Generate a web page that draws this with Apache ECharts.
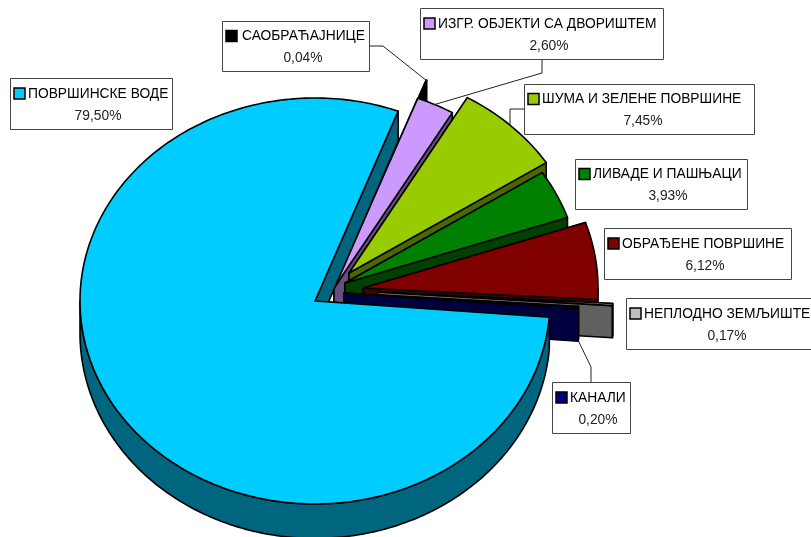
<!DOCTYPE html>
<html>
<head>
<meta charset="utf-8">
<style>
  html, body { margin: 0; padding: 0; background: #fff; }
  #chart { width: 811px; height: 537px; }
</style>
<script src="https://cdn.jsdelivr.net/npm/echarts@6/dist/echarts.min.js"></script>
</head>
<body>
<div id="chart"></div>
<script>
// data, clockwise from the top, back slices first so the painting order works out
const sliceNames  = ['САОБРАЋАЈНИЦЕ', 'ИЗГР. ОБЈЕКТИ СА ДВОРИШТЕМ', 'ШУМА И ЗЕЛЕНЕ ПОВРШИНЕ', 'ЛИВАДЕ И ПАШЊАЦИ', 'ОБРАЂЕНЕ ПОВРШИНЕ', 'НЕПЛОДНО ЗЕМЉИШТЕ', 'КАНАЛИ', 'ПОВРШИНСКЕ ВОДЕ']
const sliceValues = [0.04, 2.60, 7.45, 3.93, 6.12, 0.17, 0.20, 79.50]

// colours
const topColors  = ['#000000', '#CC99FF', '#99CC00', '#008000', '#800000', '#C0C0C0', '#000080', '#00CCFF']
const sideColors = ['#000000', '#664C80', '#4C6600', '#004000', '#400000', '#606060', '#000040', '#006680']

// pie layout
const centerX = 340, centerY = 290
const radiusX = 235, radiusY = 203
const startAngle = 69.27
const explodeDx = [3, -6, 9, 5, 23, 38, 4, -25]
const explodeDy = [-20, -2, -17, -7, -2, 2, 3, 11]

// label boxes [left, top, right, bottom]
const boxes = [
  [222, 21, 369, 71],
  [420, 8, 663, 59],
  [524, 84, 754, 134],
  [575, 159, 747, 209],
  [604, 228, 791, 279],
  [626, 298, 816, 349],
  [552, 382, 630, 433],
  [10, 78, 172, 129],
]
const nameOffsets  = [20, 18, 18, 18, 18, 18, 18, 18]
const valueCenters = [303, 549, 643, 668, 705, 727, 598, 98]
const leaders = [
  [[369, 46], [383, 46], [427, 81]],
  [[542, 59], [542, 73], [433, 105]],
  [[524, 109], [510, 109], [510, 126]],
  [[591, 382], [591, 367], [578, 340]],
]

const total = _sum(sliceValues)
function _sum(a) { return a.reduce((s, n) => s + n, 0) }
function formatValue(v) { return v.toFixed(2).replace('.', ',') + '%' }

// the wall looks a little taller towards the viewer
function lower(p) { return [p[0], p[1] + 30 + (p[1] - 110) * 0.011] }

function ellipsePoint(ox, oy, deg) {
  const t = deg * Math.PI / 180
  return [ox + radiusX * Math.cos(t), oy - radiusY * Math.sin(t)]
}

function arcPoints(ox, oy, from, to) {
  const pts = [], steps = Math.max(1, Math.ceil(Math.abs(from - to)))
  for (let i = 0; i <= steps; i++) pts.push(ellipsePoint(ox, oy, from + (to - from) * i / steps))
  return pts
}

function renderSlice(params, api) {
  const i = params.dataIndex
  const before = _sum(sliceValues.slice(0, i))
  const a0 = startAngle - before / total * 360
  const a1 = a0 - api.value(1) / total * 360
  const ox = centerX + explodeDx[i], oy = centerY + explodeDy[i]
  const line = { stroke: '#000', lineWidth: 1.6, lineJoin: 'round' }
  const side = Object.assign({ fill: sideColors[i] }, line)
  const children = []

  // both cut faces, the top covers whichever one looks away
  for (const a of [a0, a1]) {
    const rim = ellipsePoint(ox, oy, a)
    children.push({ type: 'polygon', shape: { points: [[ox, oy], rim, lower(rim), lower([ox, oy])] }, style: side })
  }

  // outer wall, only the front half of the ellipse shows
  const lo = Math.max(a1, -180), hi = Math.min(a0, 0)
  if (hi > lo) children.push({
    type: 'polygon',
    shape: { points: arcPoints(ox, oy, hi, lo).concat(arcPoints(ox, oy, lo, hi).map(lower)) },
    style: side,
  })

  children.push({
    type: 'polygon',
    shape: { points: [[ox, oy]].concat(arcPoints(ox, oy, a0, a1)) },
    style: Object.assign({ fill: topColors[i] }, line),
  })
  return { type: 'group', children }
}

function labelGraphics() {
  const out = []
  leaders.forEach(pts => out.push({
    type: 'polyline', z: 10, silent: true,
    shape: { points: pts },
    style: { fill: 'none', stroke: '#222', lineWidth: 1 },
  }))
  boxes.forEach((b, i) => {
    const midY = (b[1] + b[3]) / 2
    out.push({
      type: 'rect', z: 11, silent: true,
      shape: { x: b[0] + 0.5, y: b[1] + 0.5, width: b[2] - b[0], height: b[3] - b[1] },
      style: { fill: '#fff', stroke: '#444', lineWidth: 1 },
    })
    out.push({
      type: 'rect', z: 12, silent: true,
      shape: { x: b[0] + 4, y: midY - 15.5, width: 11, height: 11 },
      style: { fill: topColors[i], stroke: '#000', lineWidth: 1.5 },
    })
    out.push({
      type: 'text', z: 12, silent: true, x: b[0] + nameOffsets[i], y: midY - 10,
      scaleX: 0.92,
      style: { text: sliceNames[i], font: '15px "Liberation Sans"', fill: '#000', align: 'left', verticalAlign: 'middle' },
    })
    out.push({
      type: 'text', z: 12, silent: true, x: valueCenters[i], y: midY + 12,
      scaleX: 0.92,
      style: { text: formatValue(sliceValues[i]), font: '15px "Liberation Sans"', fill: '#222', align: 'center', verticalAlign: 'middle' },
    })
  })
  return out
}

const chart = echarts.init(document.getElementById('chart'), null, { renderer: 'canvas' })
chart.setOption({
  animation: false,
  backgroundColor: '#fff',
  series: [{
    type: 'custom',
    coordinateSystem: 'none',
    silent: true,
    data: sliceValues.map((v, i) => [i, v]),
    renderItem: renderSlice,
  }],
  graphic: { elements: labelGraphics() },
})
</script>
</body>
</html>
